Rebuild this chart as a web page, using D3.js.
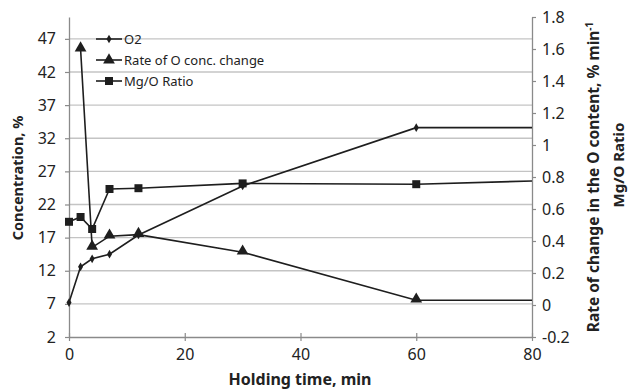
<!DOCTYPE html>
<html>
<head>
<meta charset="utf-8">
<script src="https://cdn.jsdelivr.net/npm/d3@7"></script>
<style>
  body { margin: 0; background: #fff; }
  svg text { font-family: "Noto Sans", "Open Sans", sans-serif; fill: #222; }
</style>
</head>
<body>
<div id="chart"></div>
<script>
// holding time values, min
const times = [0, 2, 4, 7, 12, 30, 60, 80];
// O2 concentration, % (left axis)
const o2 = [7.2, 12.6, 13.8, 14.5, 17.4, 24.8, 33.6, 33.6];
// rate of O conc. change, % min-1 (right axis) - starts at 2 min
const rateTimes = [2, 4, 7, 12, 30, 60, 80];
const rate = [1.6, 0.36, 0.43, 0.44, 0.33, 0.03, 0.03];
// Mg/O ratio (right axis)
const mgo = [0.52, 0.55, 0.475, 0.725, 0.73, 0.76, 0.755, 0.775];

const xTicks = [0, 20, 40, 60, 80];
const leftTicks = [2, 7, 12, 17, 22, 27, 32, 37, 42, 47];
const rightTicks = [-0.2, 0, 0.2, 0.4, 0.6, 0.8, 1, 1.2, 1.4, 1.6, 1.8];

const width = 629, height = 392;
const margin = { top: 17, right: 97, bottom: 55, left: 69 };
const plotW = width - margin.left - margin.right;
const plotH = height - margin.top - margin.bottom;

const svg = d3.select("#chart")
    .append("svg")
        .attr("width", width)
        .attr("height", height);

const g = svg.append("g")
    .attr("transform", `translate(${margin.left},${margin.top})`);

const x = d3.scaleLinear().domain([0, 80]).range([0, plotW]);
const yL = d3.scaleLinear().domain([2, 50.3]).range([plotH, 0]);
const yR = d3.scaleLinear().domain([-0.2, 1.8]).range([plotH, 0]);

// gridlines from the left axis
g.selectAll(".grid")
    .data(leftTicks.slice(1))
    .enter()
    .append("line")
    .attr("x1", 0)
    .attr("x2", plotW)
    .attr("y1", d => yL(d))
    .attr("y2", d => yL(d))
    .attr("stroke", "#c4c4c4")
    .attr("stroke-width", 1.3);

// axes
const axisColor = "#8a8a8a";
function styleAxis(sel) {
    sel.select(".domain").attr("stroke", axisColor).attr("stroke-width", 1.3);
    sel.selectAll(".tick line").attr("stroke", axisColor).attr("stroke-width", 1.2);
    sel.selectAll(".tick text")
        .attr("font-size", 16)
        .attr("fill", "#222");
}

const xAxis = g.append("g")
    .attr("transform", `translate(0,${plotH})`)
    .call(d3.axisBottom(x).tickValues(xTicks).tickSize(4).tickSizeOuter(0).tickPadding(8));
styleAxis(xAxis);
xAxis.selectAll(".tick line").attr("y1", -4);

const leftAxis = g.append("g")
    .call(d3.axisLeft(yL).tickValues(leftTicks).tickSize(4).tickSizeOuter(0).tickPadding(9));
styleAxis(leftAxis);

const rightAxis = g.append("g")
    .attr("transform", `translate(${plotW},0)`)
    .call(d3.axisRight(yR).tickValues(rightTicks).tickSize(4).tickSizeOuter(0).tickPadding(6)
        .tickFormat(d => d3.format("~g")(d).replace("\u2212", "-")));
styleAxis(rightAxis);

// lines
const lineColor = "#1e1e1e";
const o2Line = d3.line().x((d, i) => x(times[i])).y(d => yL(d));
const rateLine = d3.line().x((d, i) => x(rateTimes[i])).y(d => yR(d));
const mgoLine = d3.line().x((d, i) => x(times[i])).y(d => yR(d));

[[o2, o2Line], [rate, rateLine], [mgo, mgoLine]].forEach(([data, gen]) => {
    g.append("path")
        .datum(data)
        .attr("fill", "none")
        .attr("stroke", lineColor)
        .attr("stroke-width", 1.6)
        .attr("d", gen);
});

// markers (last point at 80 has no marker)
const diamond = d3.symbol().type(d3.symbolDiamond).size(22);
const triangle = d3.symbol().type(d3.symbolTriangle).size(60);
const square = d3.symbol().type(d3.symbolSquare).size(64);

g.selectAll(".o2pt")
    .data(o2.slice(0, -1))
    .enter()
    .append("path")
    .attr("d", diamond)
    .attr("fill", lineColor)
    .attr("transform", (d, i) => `translate(${x(times[i])},${yL(d)})`);

g.selectAll(".ratept")
    .data(rate.slice(0, -1))
    .enter()
    .append("path")
    .attr("d", triangle)
    .attr("fill", lineColor)
    .attr("transform", (d, i) => `translate(${x(rateTimes[i])},${yR(d) - 1})`);

g.selectAll(".mgopt")
    .data(mgo.slice(0, -1))
    .enter()
    .append("path")
    .attr("d", square)
    .attr("fill", lineColor)
    .attr("transform", (d, i) => `translate(${x(times[i])},${yR(d)})`);

// legend
const legendItems = [
    { name: "O2", sym: diamond },
    { name: "Rate of O conc. change", sym: triangle },
    { name: "Mg/O Ratio", sym: square }
];
const legend = svg.append("g").attr("transform", "translate(96,39)");
legendItems.forEach((item, i) => {
    const row = legend.append("g").attr("transform", `translate(0,${i * 21})`);
    row.append("line")
        .attr("x1", 0).attr("x2", 26)
        .attr("stroke", lineColor).attr("stroke-width", 1.6);
    row.append("path")
        .attr("d", item.sym)
        .attr("fill", lineColor)
        .attr("transform", "translate(13,0)");
    row.append("text")
        .attr("x", 28)
        .attr("dy", "0.35em")
        .attr("font-size", 13)
        .attr("fill", "#444")
        .text(item.name);
});

// axis titles
svg.append("text")
    .attr("x", 300)
    .attr("y", 385)
    .attr("text-anchor", "middle")
    .attr("font-size", 16)
    .attr("font-weight", "bold")
    .text("Holding time, min");

svg.append("text")
    .attr("transform", "translate(23,178) rotate(-90)")
    .attr("text-anchor", "middle")
    .attr("font-size", 14.5)
    .attr("font-weight", "bold")
    .text("Concentration, %");

const rt = svg.append("text")
    .attr("transform", "translate(599,177) rotate(-90)")
    .attr("text-anchor", "middle")
    .attr("font-size", 15.5)
    .attr("font-weight", "bold");
rt.append("tspan").text("Rate of change in the O content, % min");
rt.append("tspan").attr("dy", -6).attr("font-size", 10).text("-1");

svg.append("text")
    .attr("transform", "translate(624,165) rotate(-90)")
    .attr("text-anchor", "middle")
    .attr("font-size", 15)
    .attr("font-weight", "bold")
    .text("Mg/O Ratio");
</script>
</body>
</html>
